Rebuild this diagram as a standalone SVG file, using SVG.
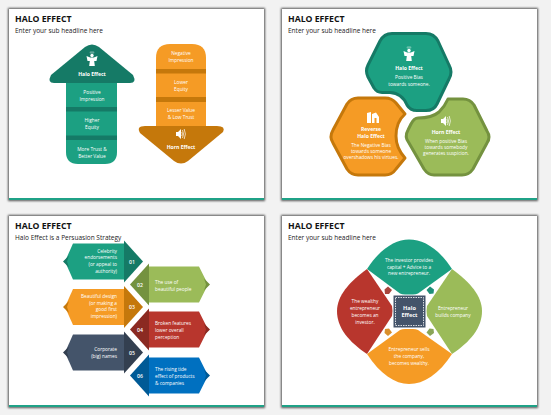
<svg xmlns="http://www.w3.org/2000/svg" xmlns:xlink="http://www.w3.org/1999/xlink" width="551" height="415" viewBox="0 0 551 415">
<style>
text{font-family:"Open Sans","Liberation Sans",sans-serif;fill:#fff;font-size:4.8px;text-anchor:middle;font-weight:500}
.tt{fill:#111;font-size:8.7px;font-weight:700;text-anchor:start}
.st{fill:#222;font-size:6.5px;font-weight:400;text-anchor:start}
.h{font-weight:700;font-size:5.1px}
.e{text-anchor:end}.a{text-anchor:start}
.n{font-size:5.2px;font-weight:600}
.jt{stroke-linejoin:round}
</style>
<defs>
<filter id="sh" x="-5%" y="-5%" width="110%" height="110%"><feGaussianBlur stdDeviation="1.200"/></filter>
<g id="slide"><rect x="-1" y="-1" width="257" height="193" fill="#555" filter="url(#sh)"/><rect width="255" height="191" fill="#fff"/><rect y="189" width="255" height="2" fill="#1fa287"/></g>
<g id="angel" fill="#fff"><circle cy="-4.500" r="1.700"/><ellipse cy="-7.500" rx="2.200" ry=".6" fill="none" stroke="#fff" stroke-width=".4"/><path d="M-1.800,-2.500 H1.800 L2.800,6 H-2.800 Z"/><path d="M-1.800,-2.500 L-5.500,-4 L-4.500,1 L-1.800,1 Z M1.800,-2.500 L5.500,-4 L4.500,1 L1.800,1 Z"/></g>
<g id="spk" fill="#fff"><path d="M-5,-2 H-3 L0,-5 V5 L-3,2 H-5 Z"/><path d="M1.500,-4 Q3.500,0 1.500,4 M3.200,-5 Q5.600,0 3.200,5 M.8,-2 Q2,0 .8,2" fill="none" stroke="#fff" stroke-width=".7"/></g>
<g id="ll"><path d="M73,-18 H125 V18 H73 L65,0 Z"/></g>
</defs>
<rect width="551" height="415" fill="#f2f2f2"/>
<use xlink:href="#slide" href="#slide" x="9" y="9"/>
<use xlink:href="#slide" href="#slide" x="282" y="9"/>
<use xlink:href="#slide" href="#slide" x="9" y="216"/>
<use xlink:href="#slide" href="#slide" x="282" y="216"/>
<g id="titles">
<text class="tt" x="15" y="22">HALO EFFECT</text><text class="st" x="15" y="32.500">Enter your sub headline here</text>
<text class="tt" x="288" y="22">HALO EFFECT</text><text class="st" x="288" y="32.500">Enter your sub headline here</text>
<text class="tt" x="15" y="229">HALO EFFECT</text><text class="st" x="15" y="239.500">Halo Effect is a Persuasion Strategy</text>
<text class="tt" x="288" y="229">HALO EFFECT</text><text class="st" x="288" y="239.500">Enter your sub headline here</text>
</g>

<g id="arrow-up">
<path d="M66,83 H117 V152 Q117,164 105,164 H78 Q66,164 66,152 Z" fill="#1ca082"/>
<path d="M66,107 H117 V111.500 H66 Z M66,135.500 H117 V140 H66 Z" fill="#157a66"/>
<path d="M85,47 Q92,42 99,47 L133,75 Q137,83 130,83 H54 Q47,83 51,75 Z" fill="#157a66"/>
<use xlink:href="#angel" href="#angel" x="92" y="60"/>
<text class="h" x="92" y="75.500">Halo Effect</text>
<text x="92" y="94">Positive</text><text x="92" y="101">Impression</text>
<text x="92" y="122">Higher</text><text x="92" y="129">Equity</text>
<text x="92" y="150.500">More Trust &amp;</text><text x="92" y="157.500">Better Value</text>
</g>
<g id="arrow-down">
<path d="M156,58 Q156,44 170,44 H192 Q206,44 206,58 V127 H156 Z" fill="#f59b25"/>
<path d="M156,69 H206 V73.500 H156 Z M156,97 H206 V102 H156 Z" fill="#c5780b"/>
<path d="M145,126 H217 Q226,126 223,132 L188,161 Q181,166 174,161 L140,133 Q136,126 145,126 Z" fill="#c5780b"/>
<use xlink:href="#spk" href="#spk" x="181" y="134"/>
<text class="h" x="181" y="149">Horn Effect</text>
<text x="181" y="55">Negative</text><text x="181" y="62">Impression</text>
<text x="181" y="83.500">Lower</text><text x="181" y="90.500">Equity</text>
<text x="181" y="112">Lesser Value</text><text x="181" y="119">&amp; Low Trust</text>
</g>

<g id="hex-halo">
<path class="jt" d="M392,33.500 H426 Q434,33.500 438,41 L449,65 Q453,72 449,79 L437,104 Q434,110.500 426,110.500 H417 Q410,110.500 407,105 Q402,93 390,92.500 H382 Q377,92.500 374,88 L368,77 Q365,71 368,65 L380,41 Q384,33.500 392,33.500 Z" fill="#1ca082" stroke="#157a66" stroke-width="3"/>
<use xlink:href="#angel" href="#angel" x="409" y="55"/>
<text class="h" x="409" y="70">Halo Effect</text>
<text x="409" y="79">Positive Bias</text><text x="409" y="85.500">towards someone.</text>
</g>
<g id="hex-reverse">
<path class="jt" d="M358,98 H385 Q392,98 396,103 L405,114 Q396,122 396,136 Q396,148 405,158 L396,169 Q392,175 385,175 H358 Q351,175 347,169 L333,143 Q329,137 333,130 L347,104 Q351,98 358,98 Z" fill="#f59b25" stroke="#c5780b" stroke-width="3"/>
<path d="M367,113 L371,112 V123 H367 Z M372,114 V123 H374.500 V118 H376.500 V123 H379 V117 L376,112.500 Z" fill="#fff"/>
<text class="h" x="371" y="131">Reverse</text><text class="h" x="371" y="137.500">Halo Effect</text>
<text x="371" y="147">The Negative Bias</text><text x="371" y="153">towards someone</text><text x="371" y="159">overshadows his virtues.</text>
</g>
<g id="hex-horn">
<path class="jt" d="M418,118 Q432,118 439,112 Q445,106 448,99 H463 Q470,99 474,105 L487,131 Q491,137 487,143 L473,169 Q469,175 462,175 H434 Q428,175 424,169 L409,143 Q404,137 408,130 L411,124 Q414,118 418,118 Z" fill="#9bbb59" stroke="#74923f" stroke-width="3"/>
<use xlink:href="#spk" href="#spk" x="446" y="121"/>
<text class="h" x="446" y="134">Horn Effect</text>
<text x="446" y="143">When positive Bias</text><text x="446" y="149">towards somebody</text><text x="446" y="155">generates suspicion.</text>
</g>

<g id="row-01" transform="translate(0,261.500)">
<use xlink:href="#ll" href="#ll" fill="#1ca082"/><path d="M63,0 L69,-6 L67,0 L69,6 Z" fill="#157a66"/><path d="M124,-21 L143,0 L124,21 Z" fill="#157a66"/>
<text class="e" x="117" y="-9">Celebrity</text><text class="e" x="117" y="-2.500">endorsements</text><text class="e" x="117" y="4">(or appeal to</text><text class="e" x="117" y="11">authority)</text>
<text class="n" x="132" y="2">01</text></g>
<g id="row-02" transform="translate(0,284.500)">
<path d="M148,-18 H199 L208,0 L199,18 H148 Z" fill="#9bbb59"/><path d="M204,-6 L210,0 L204,6 L206,0 Z" fill="#74923f"/><path d="M149,-21 L130,0 L149,21 Z" fill="#74923f"/>
<text class="a" x="155" y="-1">The use of</text><text class="a" x="155" y="6">beautiful people</text>
<text class="n" x="140" y="2">02</text></g>
<g id="row-03" transform="translate(0,307)">
<use xlink:href="#ll" href="#ll" fill="#f59b25"/><path d="M63,0 L69,-6 L67,0 L69,6 Z" fill="#c5780b"/><path d="M124,-21 L143,0 L124,21 Z" fill="#c5780b"/>
<text class="e" x="117" y="-9">Beautiful design</text><text class="e" x="117" y="-2.500">(or making a</text><text class="e" x="117" y="4">good first</text><text class="e" x="117" y="11">impression)</text>
<text class="n" x="132" y="2">03</text></g>
<g id="row-04" transform="translate(0,329.500)">
<path d="M148,-18 H199 L208,0 L199,18 H148 Z" fill="#b8362d"/><path d="M204,-6 L210,0 L204,6 L206,0 Z" fill="#8b2a22"/><path d="M149,-21 L130,0 L149,21 Z" fill="#8b2a22"/>
<text class="a" x="155" y="-5">Broken features</text><text class="a" x="155" y="2">lower overall</text><text class="a" x="155" y="9">perception</text>
<text class="n" x="140" y="2">04</text></g>
<g id="row-05" transform="translate(0,352.500)">
<use xlink:href="#ll" href="#ll" fill="#44546a"/><path d="M63,0 L69,-6 L67,0 L69,6 Z" fill="#333f50"/><path d="M124,-21 L143,0 L124,21 Z" fill="#333f50"/>
<text class="e" x="117" y="-1.500">Corporate</text><text class="e" x="117" y="5.500">(big) names</text>
<text class="n" x="132" y="2">05</text></g>
<g id="row-06" transform="translate(0,375.500)">
<path d="M148,-18 H199 L208,0 L199,18 H148 Z" fill="#0070c0"/><path d="M204,-6 L210,0 L204,6 L206,0 Z" fill="#005a96"/><path d="M149,-21 L130,0 L149,21 Z" fill="#005a96"/>
<text class="a" x="155" y="-5">The rising tide</text><text class="a" x="155" y="2">effect of products</text><text class="a" x="155" y="9">&amp; companies</text>
<text class="n" x="140" y="2">06</text></g>

<g id="petal-top">
<path d="M367,269 C380,249 395,239.500 409,239.500 C424,239.500 439,249 452,269 L418,293.500 Q416,294.500 413,294.500 H405 Q402,294.500 400,293.500 Z" fill="#1ca082"/>
<text x="409" y="262">The investor provides</text><text x="409" y="268.500">capital + Advice to a</text><text x="409" y="275">new entrepreneur.</text></g>
<g id="petal-left">
<path d="M367,269 L392,306 Q393,311 392,316 L367,354 C349,342 337,328 337,311 C337,296 349,282 367,269 Z" fill="#b8362d"/>
<text x="365" y="303">The wealthy</text><text x="365" y="310">entrepreneur</text><text x="365" y="316.500">becomes an</text><text x="365" y="323.500">investor.</text></g>
<g id="petal-right">
<path d="M452,269 L427,306 Q426,311 427,316 L452,354 C470,342 482,328 482,311 C482,296 470,282 452,269 Z" fill="#9bbb59"/>
<text x="453" y="310">Entrepreneur</text><text x="453" y="317">builds company</text></g>
<g id="petal-bottom">
<path d="M367,354 C380,374 395,384 409,384 C424,384 439,374 452,354 L418,330 Q416,329 413,329 H405 Q402,329 400,330 Z" fill="#f59b25"/>
<text x="409" y="351">Entrepreneur sells</text><text x="409" y="358">the company,</text><text x="409" y="365">becomes wealthy.</text></g>
<g id="center">
<rect x="393.500" y="295.500" width="32" height="32" fill="#44546a"/>
<rect x="395.500" y="297.500" width="28" height="28" fill="none" stroke="#fff" stroke-width=".8" stroke-dasharray="1.500 1"/>
<text class="h" style="font-size:5.600px" x="409.500" y="309.500">Halo</text><text class="h" style="font-size:5.600px" x="409.500" y="317">Effect</text></g>
<g id="connectors">
<path d="M388,286.500 L392,290 L389,294 L385,294 L384.500,289.500 Z" fill="#a8453c"/>
<path d="M430,286.500 L426.500,290 L429.500,294 L433.500,293.500 L434,289.500 Z" fill="#1f8f78"/>
<path d="M388,336 L392,332.500 L389,328.500 L385,329 L384.500,333 Z" fill="#d98f2b"/>
<path d="M430,336 L426.500,332.500 L429.500,328.500 L433.500,329 L434,333 Z" fill="#8aa558"/>
</g>
</svg>
